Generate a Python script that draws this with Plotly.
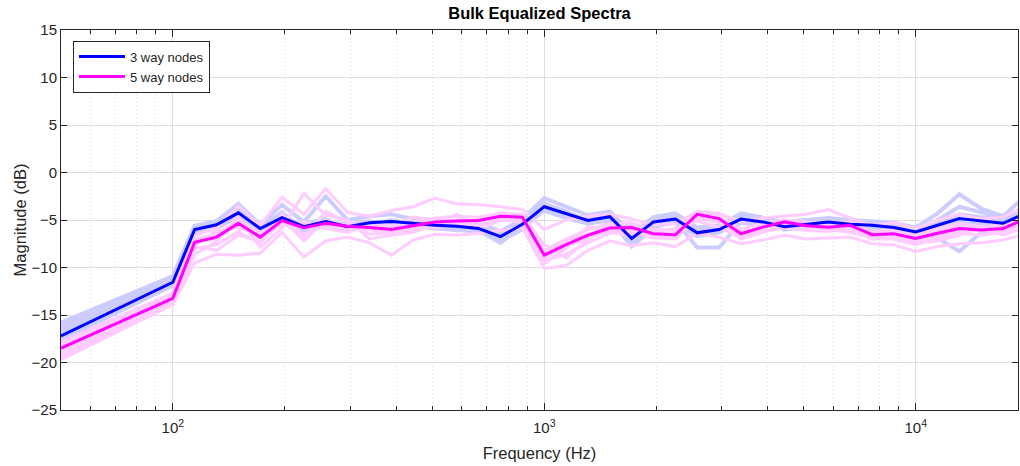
import plotly.graph_objects as go

# Frequencies (Hz)
freqs = [50, 100, 114.5, 131.1, 150.1, 171.9, 196.8, 225.4, 258.0, 295.5, 338.3,
         387.4, 443.5, 507.9, 581.5, 665.8, 762.4, 873.0, 1000, 1145, 1311,
         1501, 1719, 1968, 2254, 2580, 2955, 3383, 3874, 4435, 5079,
         5815, 6658, 7624, 8730, 10000, 11450, 13111, 15012, 17189, 19682]

# Mean spectra (dB)
mean_3way = [-17.2, -11.55, -6.0, -5.5, -4.25, -5.9, -4.75, -5.7, -5.15, -5.7,
             -5.3, -5.15, -5.35, -5.55, -5.65, -5.9, -6.75, -5.45, -3.6, -4.35,
             -5.05, -4.65, -6.95, -5.2, -4.9, -6.35, -6.0, -4.9, -5.2, -5.7,
             -5.45, -5.2, -5.45, -5.55, -5.8, -6.25, -5.55, -4.85, -5.1, -5.35, -4.3]
mean_5way = [-18.5, -13.25, -7.35, -6.8, -5.35, -6.8, -5.07, -5.8, -5.35, -5.65,
             -5.8, -6.0, -5.6, -5.2, -5.1, -5.05, -4.6, -4.7, -8.7, -7.6,
             -6.6, -5.85, -5.8, -6.45, -6.55, -4.4, -4.85, -6.45, -5.75, -5.2,
             -5.6, -5.75, -5.55, -6.55, -6.45, -6.95, -6.4, -5.9, -6.05, -5.9, -4.9]

# Individual 3-way node spectra (dB)
node3_a = [-15.8, -10.9, -5.6, -5.1, -3.3, -5.5, -3.4, -5.2, -2.5, -5.0,
           -4.6, -4.4, -4.9, -5.0, -5.2, -5.3, -6.2, -4.9, -2.7, -3.6,
           -4.5, -4.1, -6.4, -4.7, -4.3, -5.8, -5.6, -4.3, -4.7, -5.2,
           -5.0, -4.8, -5.0, -5.1, -5.3, -5.8, -4.3, -2.3, -3.8, -4.6, -2.5]
node3_b = [-17.6, -11.9, -6.3, -5.8, -4.6, -6.2, -5.1, -6.0, -5.6, -6.0,
           -5.7, -5.5, -5.7, -5.9, -6.0, -6.2, -7.1, -5.8, -4.0, -4.8,
           -5.4, -5.0, -7.3, -5.6, -5.3, -6.7, -6.3, -5.3, -5.5, -6.0,
           -5.8, -5.6, -5.8, -5.9, -6.1, -6.6, -5.9, -5.3, -5.5, -5.7, -4.8]
node3_c = [-16.5, -11.2, -5.8, -5.3, -4.0, -5.7, -4.5, -5.9, -5.5, -5.5,
           -5.1, -5.6, -5.2, -5.4, -5.9, -6.1, -7.4, -5.6, -3.3, -4.1,
           -5.3, -4.9, -7.8, -5.8, -5.1, -7.9, -7.9, -5.2, -5.6, -5.5,
           -5.3, -5.4, -5.7, -5.9, -6.0, -6.8, -6.9, -8.3, -6.3, -6.1, -3.2]
node3_d = [-16.9, -11.4, -6.1, -5.6, -3.9, -6.0, -4.9, -5.4, -4.9, -5.9,
           -5.5, -5.0, -5.5, -5.3, -5.5, -5.7, -6.5, -5.2, -3.2, -4.6,
           -4.8, -4.4, -6.8, -5.0, -4.7, -6.2, -5.8, -4.6, -5.0, -5.5,
           -5.6, -5.0, -5.3, -5.4, -5.6, -6.1, -5.2, -4.4, -4.7, -5.1, -3.8]
node3_e = [-16.2, -11.1, -6.4, -5.9, -4.5, -5.8, -4.2, -6.2, -5.3, -5.4,
           -5.9, -5.3, -5.0, -5.8, -5.4, -6.0, -6.9, -5.3, -3.9, -4.5,
           -5.2, -4.5, -6.6, -5.3, -4.8, -6.5, -6.1, -5.0, -5.4, -5.8,
           -5.2, -5.3, -5.6, -5.3, -5.9, -6.4, -5.0, -3.6, -4.2, -4.9, -3.5]
node3_f = [-17.5, -11.8, -5.9, -5.4, -4.4, -6.3, -5.0, -5.5, -5.8, -6.2,
           -5.4, -5.8, -5.6, -5.6, -6.1, -5.8, -7.2, -6.0, -3.5, -4.2,
           -5.0, -5.2, -7.0, -5.5, -5.2, -6.4, -6.2, -4.8, -5.3, -5.9,
           -5.6, -5.5, -5.5, -5.7, -5.8, -6.5, -5.7, -5.5, -5.8, -5.8, -4.6]

# Individual 5-way node spectra (dB)
node5_a = [-17.8, -12.7, -6.6, -5.9, -3.5, -5.6, -2.6, -4.4, -1.7, -4.2,
           -4.6, -4.0, -3.6, -2.7, -3.3, -3.4, -3.6, -3.9, -6.0, -5.0,
           -4.6, -4.4, -4.9, -5.5, -5.4, -4.1, -4.3, -5.2, -4.8, -4.6,
           -4.4, -3.9, -4.8, -5.6, -5.3, -5.9, -5.0, -4.4, -4.9, -4.7, -3.6]
node5_b = [-19.7, -13.9, -9.5, -8.6, -8.7, -8.5, -6.3, -8.9, -7.2, -6.8,
           -7.4, -8.7, -7.1, -6.5, -6.6, -6.4, -6.1, -5.8, -10.1, -9.8,
           -8.2, -7.2, -7.7, -7.4, -7.8, -6.4, -6.8, -7.5, -7.1, -6.6,
           -7.0, -6.9, -6.8, -7.5, -7.6, -8.3, -7.8, -7.5, -7.4, -7.1, -6.5]
node5_c = [-18.9, -13.5, -8.0, -7.6, -6.2, -7.5, -4.4, -6.9, -4.1, -5.2,
           -6.5, -6.3, -5.9, -5.8, -5.5, -5.6, -4.9, -5.2, -9.3, -8.6,
           -7.4, -6.4, -6.3, -6.9, -7.0, -4.8, -5.3, -7.0, -6.3, -5.8,
           -6.1, -6.2, -5.9, -7.0, -7.0, -7.6, -6.9, -6.4, -6.6, -6.3, -5.4]
node5_d = [-18.2, -13.0, -7.0, -6.5, -5.0, -6.3, -5.5, -5.2, -5.9, -6.3,
           -5.3, -5.6, -5.2, -4.8, -4.6, -4.7, -4.3, -4.4, -8.2, -7.0,
           -6.0, -5.4, -5.3, -6.0, -6.1, -4.2, -4.6, -6.0, -5.3, -5.0,
           -5.2, -5.4, -5.2, -6.2, -6.0, -6.6, -5.9, -5.4, -5.7, -5.5, -4.4]
node5_e = [-19.2, -13.7, -8.6, -7.3, -4.6, -7.9, -5.8, -2.2, -4.5, -5.0,
           -7.0, -6.6, -6.3, -5.5, -4.4, -5.9, -5.1, -4.9, -9.6, -8.0,
           -5.7, -6.3, -6.7, -6.2, -5.9, -5.1, -5.8, -6.8, -6.0, -5.6,
           -5.4, -6.0, -6.3, -6.9, -6.8, -7.4, -7.2, -6.6, -5.8, -6.6, -5.8]
node5_f = [-17.9, -12.8, -7.6, -6.2, -5.8, -6.6, -4.9, -7.2, -5.0, -5.6,
           -5.2, -5.6, -4.7, -5.0, -5.6, -4.9, -4.8, -4.5, -7.6, -9.0,
           -7.0, -5.6, -5.5, -6.8, -6.8, -4.7, -5.0, -6.3, -5.9, -5.3,
           -5.9, -5.5, -5.6, -6.3, -6.2, -7.0, -6.1, -5.6, -6.2, -5.7, -4.2]
node5_g = [-19.4, -13.8, -7.8, -8.2, -6.6, -7.2, -5.3, -6.5, -5.6, -5.9,
           -6.0, -6.4, -6.0, -5.3, -5.0, -5.2, -4.7, -4.9, -9.0, -7.8,
           -6.9, -6.1, -6.1, -6.6, -6.4, -4.5, -5.1, -6.6, -5.6, -5.4,
           -5.8, -5.9, -5.7, -6.8, -6.6, -7.2, -6.6, -6.1, -6.1, -6.2, -5.0]
node5_h = [-18.6, -13.3, -7.2, -7.0, -5.4, -6.9, -5.1, -5.6, -5.5, -5.6,
           -5.7, -5.9, -5.5, -5.3, -5.2, -5.1, -4.6, -4.8, -8.5, -7.3,
           -6.5, -5.8, -5.9, -6.3, -6.6, -4.3, -4.9, -6.4, -5.8, -5.1,
           -5.5, -5.7, -5.5, -6.5, -6.3, -7.1, -6.3, -5.8, -6.0, -5.9, -4.9]

nodes_3way = [node3_a, node3_b, node3_c, node3_d, node3_e, node3_f]
nodes_5way = [node5_a, node5_b, node5_c, node5_d, node5_e, node5_f, node5_g, node5_h]

x_major = [100, 1000, 10000]
x_major_text = ["10<sup>2</sup>", "10<sup>3</sup>", "10<sup>4</sup>"]
x_minor = [60, 70, 80, 90, 200, 300, 400, 500, 600, 700, 800, 900,
           2000, 3000, 4000, 5000, 6000, 7000, 8000, 9000]
y_ticks = [-25, -20, -15, -10, -5, 0, 5, 10, 15]

FONT = "Liberation Sans, Arial, Helvetica, sans-serif"
AX = "#262626"

fig = go.Figure()
for v in nodes_3way:
    fig.add_trace(go.Scatter(x=freqs, y=v, mode="lines", showlegend=False,
                             line=dict(color="#ccccff", width=4), hoverinfo="skip"))
for v in nodes_5way:
    fig.add_trace(go.Scatter(x=freqs, y=v, mode="lines", showlegend=False,
                             line=dict(color="#ffccff", width=3), hoverinfo="skip"))
fig.add_trace(go.Scatter(x=freqs, y=mean_3way, mode="lines", name="3 way nodes",
                         line=dict(color="#0000ff", width=3)))
fig.add_trace(go.Scatter(x=freqs, y=mean_5way, mode="lines", name="5 way nodes",
                         line=dict(color="#ff00ff", width=3)))

fig.update_layout(
    width=1020, height=466,
    margin=dict(l=61, r=2, t=30, b=56, autoexpand=False),
    paper_bgcolor="white", plot_bgcolor="white",
    font=dict(family=FONT, size=15, color=AX),
    title=dict(text="<b>Bulk Equalized Spectra</b>", x=0.5, xref="paper",
               y=1 - 13 / 466, yref="container", xanchor="center", yanchor="middle",
               font=dict(family=FONT, size=16.5, color="black")),
    legend=dict(x=0.0125, y=0.972, xanchor="left", yanchor="top",
                bgcolor="white", bordercolor=AX, borderwidth=1,
                font=dict(family=FONT, size=13, color=AX),
                tracegroupgap=0, itemwidth=46),
    showlegend=True,
)

fig.update_xaxes(
    type="log", range=[1.69897, 4.2753], automargin=False,
    tickvals=x_major, ticktext=x_major_text,
    ticks="inside", ticklen=7, tickwidth=1, tickcolor=AX,
    showline=True, linecolor=AX, linewidth=1, mirror="allticks",
    showgrid=True, gridcolor="#dedede", gridwidth=1,
    minor=dict(tickvals=x_minor, ticks="inside", ticklen=4, tickcolor=AX,
               showgrid=True, gridcolor="#d6d6d6", griddash="1px,3px", gridwidth=1),
    zeroline=False, ticklabelstandoff=4,
    title=dict(text="Frequency (Hz)", font=dict(family=FONT, size=16.5, color=AX), standoff=12),
    tickfont=dict(family=FONT, size=15, color=AX),
)
fig.update_yaxes(
    range=[-25, 15], tickvals=y_ticks, automargin=False,
    ticks="inside", ticklen=6, tickwidth=1, tickcolor=AX,
    showline=True, linecolor=AX, linewidth=1, mirror="allticks",
    showgrid=True, gridcolor="#dedede", gridwidth=1,
    zeroline=False,
    title=dict(text="Magnitude (dB)", font=dict(family=FONT, size=16.5, color=AX), standoff=0),
    tickfont=dict(family=FONT, size=15, color=AX),
)

fig.write_html("out.html", config={"displayModeBar": False},
               post_script="document.body.style.margin='0px';document.body.style.overflow='hidden';")
